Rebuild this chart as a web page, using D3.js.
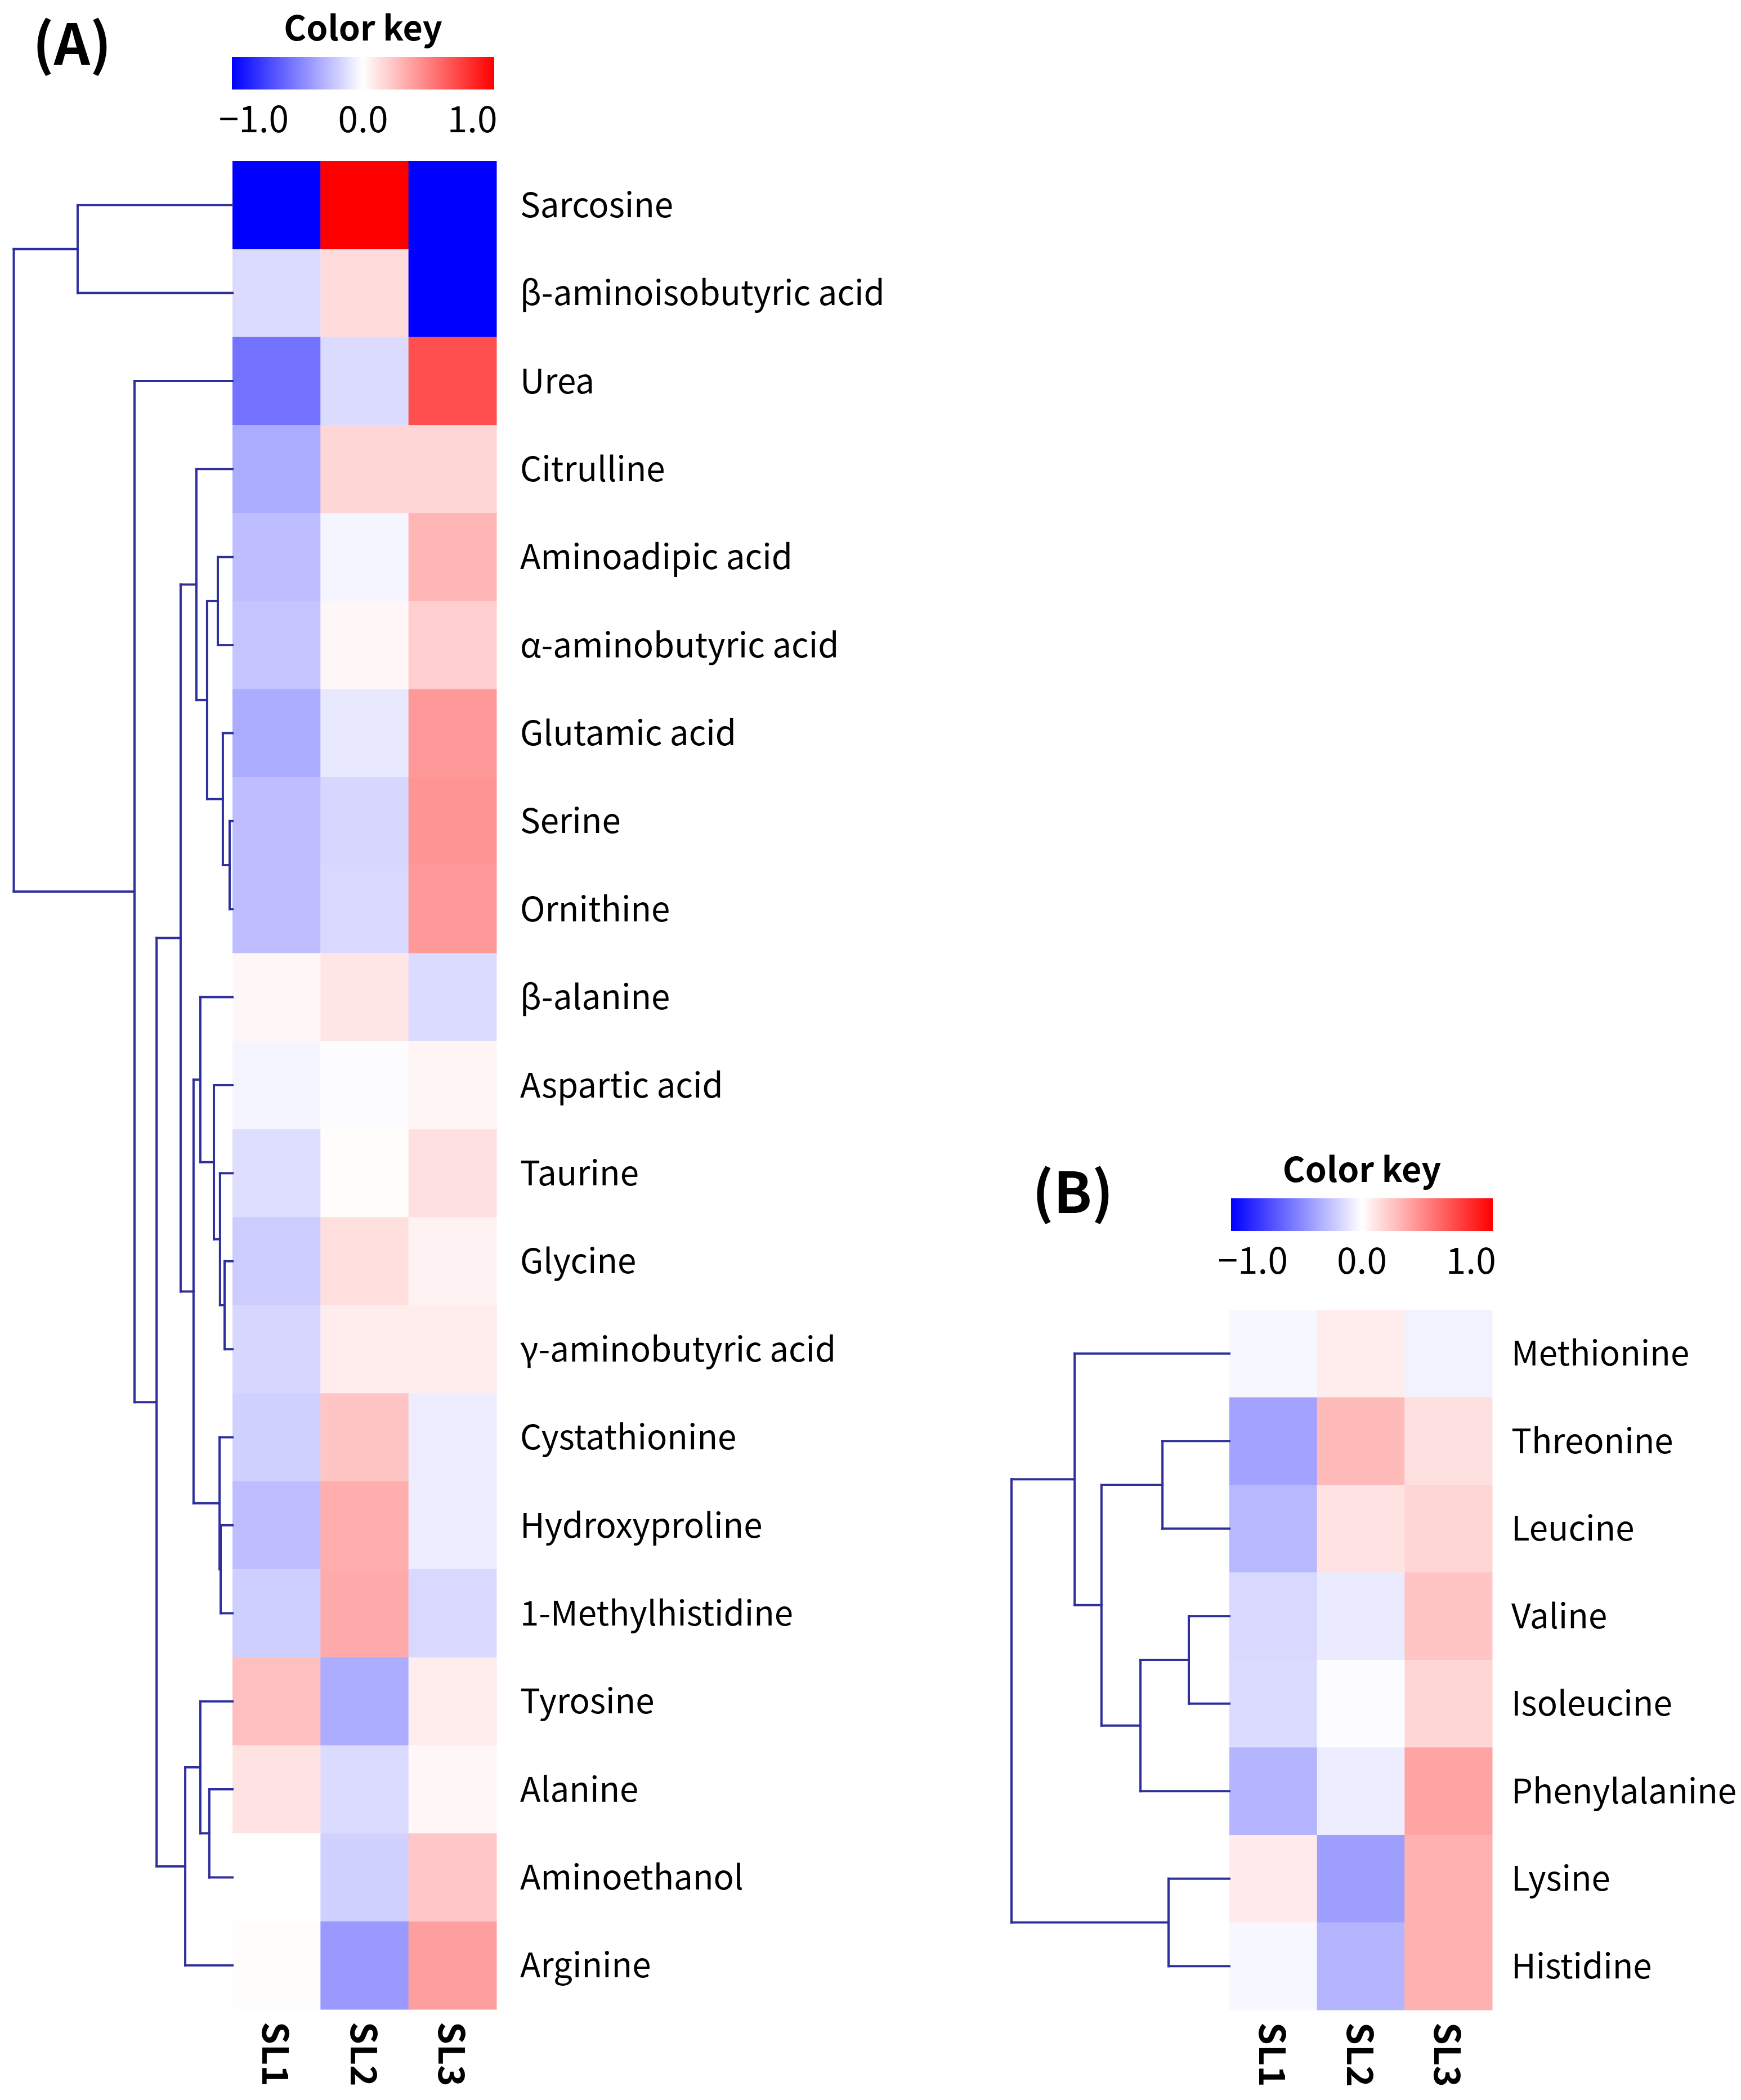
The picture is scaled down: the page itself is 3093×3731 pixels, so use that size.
<!DOCTYPE html>
<html>
<head>
<meta charset="utf-8">
<script src="https://cdn.jsdelivr.net/npm/d3@7"></script>
<style>
body { margin: 0; background: #fff; }
text { font-family: "Noto Sans CJK KR", "Noto Sans", sans-serif; fill: #000; }
</style>
</head>
<body>
<script>
// DATA

var samples = ["SL1", "SL2", "SL3"];

// panel A rows, top to bottom
var rows_a = ["Sarcosine", "β-aminoisobutyric acid", "Urea", "Citrulline", "Aminoadipic acid",
	"α-aminobutyric acid", "Glutamic acid", "Serine", "Ornithine", "β-alanine", "Aspartic acid",
	"Taurine", "Glycine", "γ-aminobutyric acid", "Cystathionine", "Hydroxyproline",
	"1-Methylhistidine", "Tyrosine", "Alanine", "Aminoethanol", "Arginine"];

// one [SL1, SL2, SL3] per row
var values_a = [
	[-1.00, 1.00, -1.00],
	[-0.14, 0.14, -1.00],
	[-0.55, -0.14, 0.69],
	[-0.33, 0.16, 0.16],
	[-0.26, -0.04, 0.29],
	[-0.23, 0.03, 0.19],
	[-0.33, -0.09, 0.40],
	[-0.26, -0.16, 0.42],
	[-0.26, -0.15, 0.40],
	[0.03, 0.10, -0.14],
	[-0.04, -0.01, 0.04],
	[-0.13, 0.01, 0.12],
	[-0.20, 0.13, 0.05],
	[-0.16, 0.07, 0.07],
	[-0.18, 0.23, -0.07],
	[-0.26, 0.32, -0.07],
	[-0.19, 0.33, -0.15],
	[0.25, -0.32, 0.07],
	[0.11, -0.14, 0.03],
	[0.00, -0.18, 0.22],
	[0.01, -0.40, 0.38]
];

var rows_b = ["Methionine", "Threonine", "Leucine", "Valine", "Isoleucine", "Phenylalanine", "Lysine", "Histidine"];

var values_b = [
	[-0.03, 0.07, -0.05],
	[-0.36, 0.27, 0.12],
	[-0.28, 0.11, 0.16],
	[-0.15, -0.08, 0.23],
	[-0.14, -0.01, 0.16],
	[-0.29, -0.07, 0.36],
	[0.08, -0.38, 0.31],
	[-0.03, -0.29, 0.31]
];

// dendrograms: [height, left child, right child], leaves are row names
var tree_a = [10.0,
	[7.08, "Sarcosine", "β-aminoisobutyric acid"],
	[4.48, "Urea",
		[3.47,
			[2.37,
				[1.65, "Citrulline",
					[1.16,
						[0.67, "Aminoadipic acid", "α-aminobutyric acid"],
						[0.44, "Glutamic acid", [0.13, "Serine", "Ornithine"]]]],
				[1.78,
					[1.47, "β-alanine",
						[0.85, "Aspartic acid",
							[0.57, "Taurine", [0.36, "Glycine", "γ-aminobutyric acid"]]]],
					[0.59, "Cystathionine", [0.54, "Hydroxyproline", "1-Methylhistidine"]]]],
			[2.16,
				[1.47, "Tyrosine", [1.06, "Alanine", "Aminoethanol"]],
				"Arginine"]]]];

var tree_b = [10.0,
	[7.10, "Methionine",
		[5.87,
			[3.07, "Threonine", "Leucine"],
			[4.08, [1.86, "Valine", "Isoleucine"], "Phenylalanine"]]],
	[2.79, "Lysine", "Histidine"]];

var key_ticks = [-1.0, 0.0, 1.0];
var key_tick_labels = ["\u22121.0", "0.0", "1.0"];

// SETUP

var width = 3093, height = 3731;
var line_color = "#2d2f9c";

var svg = d3.select("body").append("svg")
	.attr("width", width)
	.attr("height", height);

svg.append("rect").attr("width", width).attr("height", height).attr("fill", "#fff");

var color = d3.scaleLinear()
	.domain([-1, 0, 1])
	.range(["#0000ff", "#ffffff", "#ff0000"]);

var grad = svg.append("defs").append("linearGradient").attr("id", "key_grad");
d3.range(0, 1.0001, 0.05).forEach(function(t) {
	grad.append("stop").attr("offset", t).attr("stop-color", color(-1 + 2 * t));
});

// draw one panel: heatmap + dendrogram + key
var draw_panel = function(p)
{
	var g = svg.append("g");

	var x = d3.scaleBand().domain(samples).range([p.left, p.right]);
	var y = d3.scaleBand().domain(p.rows).range([p.top, p.bottom]);

	var cells = [];
	p.values.forEach(function(r, i) {
		r.forEach(function(v, j) { cells.push({"row": p.rows[i], "col": samples[j], "v": v}); });
	});

	g.selectAll("rect.cell")
		.data(cells)
		.enter()
		.append("rect")
		.attr("class", "cell")
		.attr("x", function(d) { return x(d.col); })
		.attr("y", function(d) { return y(d.row); })
		.attr("width", x.bandwidth() + 0.5)
		.attr("height", y.bandwidth() + 0.5)
		.attr("fill", function(d) { return color(d.v); });

	// row labels
	g.selectAll("text.row")
		.data(p.rows)
		.enter()
		.append("text")
		.attr("class", "row")
		.attr("x", p.right + p.label_gap)
		.attr("y", function(d) { return y(d) + y.bandwidth() / 2; })
		.attr("dy", "0.36em")
		.style("font-size", "60px")
		.text(function(d) { return d; });

	// column labels, rotated
	g.selectAll("text.col")
		.data(samples)
		.enter()
		.append("text")
		.attr("class", "col")
		.attr("transform", function(d) {
			return "translate(" + (x(d) + x.bandwidth() / 2 - 25) + "," + (p.bottom + 22) + ") rotate(90)";
		})
		.style("font-size", "64px")
		.style("font-weight", "bold")
		.text(function(d) { return d; });

	// dendrogram
	var h = d3.scaleLinear().domain([0, 10]).range([p.left, p.tree_left]);
	var root = d3.hierarchy(p.tree, function(d) { return Array.isArray(d) ? d.slice(1) : null; });
	root.eachAfter(function(n) {
		if (n.children) {
			n.px = h(n.data[0]);
			n.py = d3.mean(n.children, function(c) { return c.py; });
		} else {
			n.px = p.left;
			n.py = y(n.data) + y.bandwidth() / 2;
		}
	});
	var segs = [];
	root.each(function(n) {
		if (!n.children) return;
		segs.push([n.px, n.children[0].py, n.px, n.children[1].py]);
		n.children.forEach(function(c) { segs.push([c.px, c.py, n.px, c.py]); });
	});
	g.selectAll("line.tree")
		.data(segs)
		.enter()
		.append("line")
		.attr("x1", function(d) { return d[0]; })
		.attr("y1", function(d) { return d[1]; })
		.attr("x2", function(d) { return d[2]; })
		.attr("y2", function(d) { return d[3]; })
		.attr("stroke", line_color)
		.attr("stroke-width", 4)
		.attr("stroke-linecap", "square");

	// color key
	var k = p.key;
	g.append("rect")
		.attr("x", k.x).attr("y", k.y)
		.attr("width", k.w).attr("height", k.h)
		.attr("fill", "url(#key_grad)");
	g.append("text")
		.attr("x", k.x + k.w / 2)
		.attr("y", k.y - 29)
		.attr("text-anchor", "middle")
		.style("font-size", "61px")
		.style("font-weight", "bold")
		.text("Color key");
	var kx = d3.scaleLinear().domain([-1.2, 1.2]).range([k.x, k.x + k.w]);
	g.selectAll("text.tick")
		.data(key_ticks)
		.enter()
		.append("text")
		.attr("class", "tick")
		.attr("x", function(d) { return kx(d); })
		.attr("y", k.y + k.h + 76)
		.attr("text-anchor", "middle")
		.style("font-size", "64px")
		.text(function(d, i) { return key_tick_labels[i]; });

	g.append("text")
		.attr("x", p.tag_x)
		.attr("y", p.tag_y)
		.style("font-size", "100px")
		.style("font-weight", "bold")
		.text(p.tag);
};

draw_panel({
	"rows": rows_a, "values": values_a, "tree": tree_a,
	"left": 413, "right": 882, "top": 286, "bottom": 3570,
	"tree_left": 24.5, "label_gap": 42,
	"key": {"x": 412, "y": 101, "w": 466, "h": 58},
	"tag": "(A)", "tag_x": 58, "tag_y": 115
});

draw_panel({
	"rows": rows_b, "values": values_b, "tree": tree_b,
	"left": 2184, "right": 2651, "top": 2327, "bottom": 3571,
	"tree_left": 1797, "label_gap": 34,
	"key": {"x": 2187, "y": 2129, "w": 465, "h": 58},
	"tag": "(B)", "tag_x": 1834, "tag_y": 2155
});
</script>
</body>
</html>
